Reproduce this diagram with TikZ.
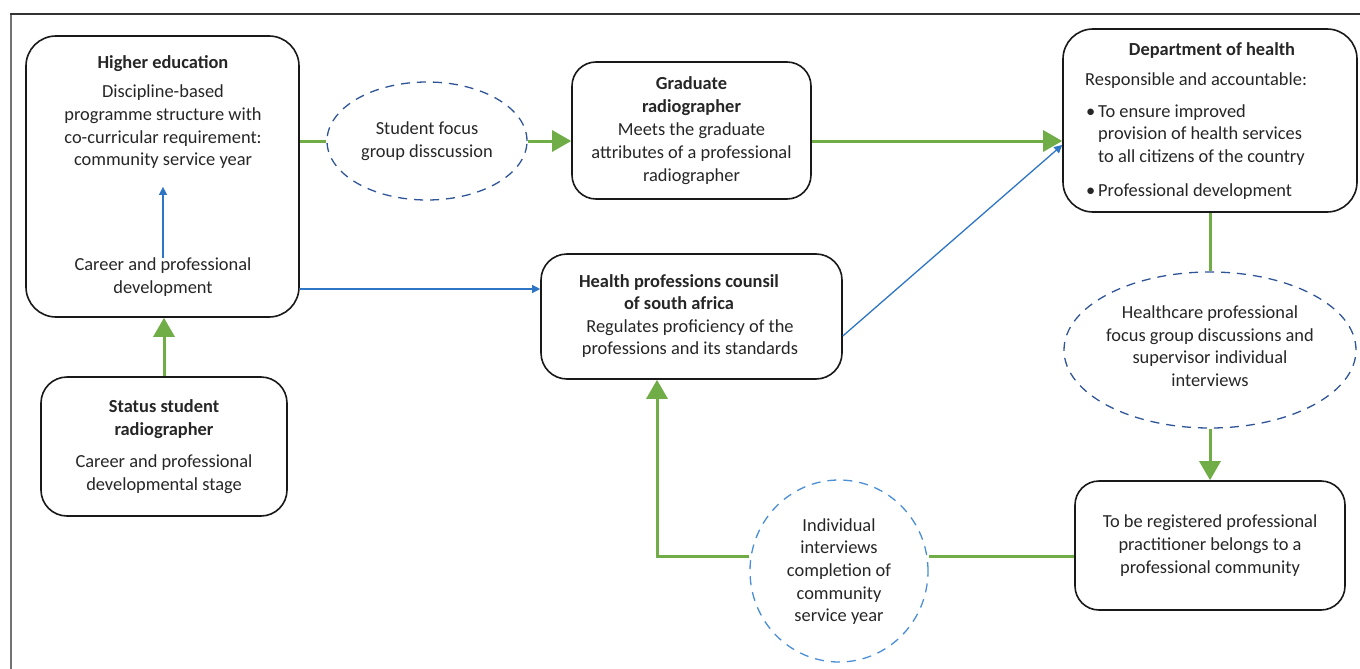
\documentclass[tikz,border=0pt]{standalone}
\usepackage{fontspec}
\setmainfont{Carlito}
\usetikzlibrary{arrows.meta,shapes.geometric,calc}
\definecolor{grn}{HTML}{70AD47}
\definecolor{blu}{HTML}{2E75C6}
\definecolor{dblu}{HTML}{2F5597}
\definecolor{lblu}{HTML}{4A8ED6}
\definecolor{txtc}{HTML}{262626}
\tikzset{
  fnt/.style={font=\fontsize{18.4}{22.6}\selectfont, text=txtc},
  box/.style={draw=black!90, line width=1.6pt, rounded corners=28pt, fill=white, inner sep=0pt, align=center, fnt},
  txt/.style={align=center, inner sep=0pt, fnt},
  ell/.style={ellipse, draw=dblu, dash pattern=on 9pt off 7pt, line width=1.3pt, inner sep=0pt, align=center, fnt},
  gline/.style={draw=grn, line width=3pt},
  garrow/.style={gline, -{Triangle[length=19pt,width=21pt]}},
  barrow/.style={draw=blu, line width=1.3pt, -{Triangle[length=8pt,width=8pt]}}
}
\begin{document}
\begin{tikzpicture}[x=1pt,y=-1pt]
\useasboundingbox (0,0) rectangle (1360,669);
% frame
\draw[line width=2pt, black!55] (11,669) -- (11,14);
\draw[line width=1.5pt, black!80] (10,14) -- (1360,14);

% helper coordinates
\coordinate (yg) at (0,141);
\coordinate (yb) at (0,289);
\coordinate (yd1) at (0,336);
\coordinate (yd2) at (0,145);
\coordinate (yi) at (0,556);
\coordinate (xa) at (657,0);

% Higher education
\node[box, minimum width=273pt, minimum height=281pt, rounded corners=30pt] (he) at (162.5,176.5) {};
\node[txt] (heT) at (163,112) {\textbf{Higher education}\\[7pt]Discipline-based\\programme structure with\\co-curricular requirement:\\community service year};
\node[txt] (heC) at (163,277) {Career and professional\\development};

% Status student radiographer
\node[box, minimum width=246pt, minimum height=139pt, rounded corners=26pt] (st) at (164,446.5) {\textbf{Status student}\\\textbf{radiographer}\\[10pt]Career and professional\\developmental stage};

% Student focus ellipse
\node[ell, minimum width=200pt, minimum height=118pt] (sf) at (427,141) {Student focus\\group disscussion};

% Graduate radiographer
\node[box, minimum width=239pt, minimum height=137pt, rounded corners=24pt] (gr) at (691.5,130.5) {\textbf{Graduate}\\\textbf{radiographer}\\[1pt]Meets the graduate\\attributes of a professional\\radiographer};

% Department of health
\node[box, minimum width=294pt, minimum height=183pt, rounded corners=30pt] (dh) at (1210,120.5) {};
\node[txt] (dhT) at (1212,50.5) {\textbf{Department of health}};
\node[txt, align=left, anchor=west] (dhB) at (1085,136) {Responsible and accountable:\\[9pt]\makebox[13pt][l]{\hspace{1pt}•}To ensure improved\\\hspace*{13pt}provision of health services\\\hspace*{13pt}to all citizens of the country\\[11pt]\makebox[13pt][l]{\hspace{1pt}•}Professional development};

% HPCSA
\node[box, minimum width=301pt, minimum height=125pt, rounded corners=26pt] (hp) at (691.5,316.5) {};
\node[txt] (hpT) at (679,292) {\textbf{Health professions counsil}\\\textbf{of south africa}};
\node[txt] (hpB) at (690,338.5) {Regulates proficiency of the\\professions and its standards};

% Healthcare ellipse
\node[ell, minimum width=292pt, minimum height=156pt] (hc) at (1210,350) {};
\node[txt] (hcT) at (1210,346) {Healthcare professional\\focus group discussions and\\supervisor individual\\interviews};

% Registered
\node[box, minimum width=270pt, minimum height=129pt, rounded corners=24pt] (rg) at (1210,545.5) {To be registered professional\\practitioner belongs to a\\professional community};

% Individual interviews circle
\node[ell, draw=lblu, minimum width=178pt, minimum height=182pt] (ic) at (839,571) {};
\node[txt] (icT) at (839,571.5) {Individual\\interviews\\completion of\\community\\service year};

% connectors
\draw[gline] (he.east |- yg) -- (sf.west);
\draw[garrow] (sf.east) -- (gr.west |- sf.east);
\draw[garrow] (gr.east |- yg) -- (dh.west |- yg);
\draw[barrow, shorten >=18pt] (heC.north) -- (heT.south);
\draw[barrow] (he.east |- yb) -- (hp.west |- yb);
\draw[barrow] (hp.east |- yd1) -- (dh.west |- yd2);
\draw[gline] (dh.south) -- (hc.north);
\draw[garrow] (hc.south) -- (rg.north);
\draw[gline] (rg.west |- yi) -- (ic.east |- yi);
\draw[garrow] (ic.west |- yi) -| (xa |- hp.south);
\draw[garrow] (st.north) -- (st.north |- he.south);
\end{tikzpicture}
\end{document}
